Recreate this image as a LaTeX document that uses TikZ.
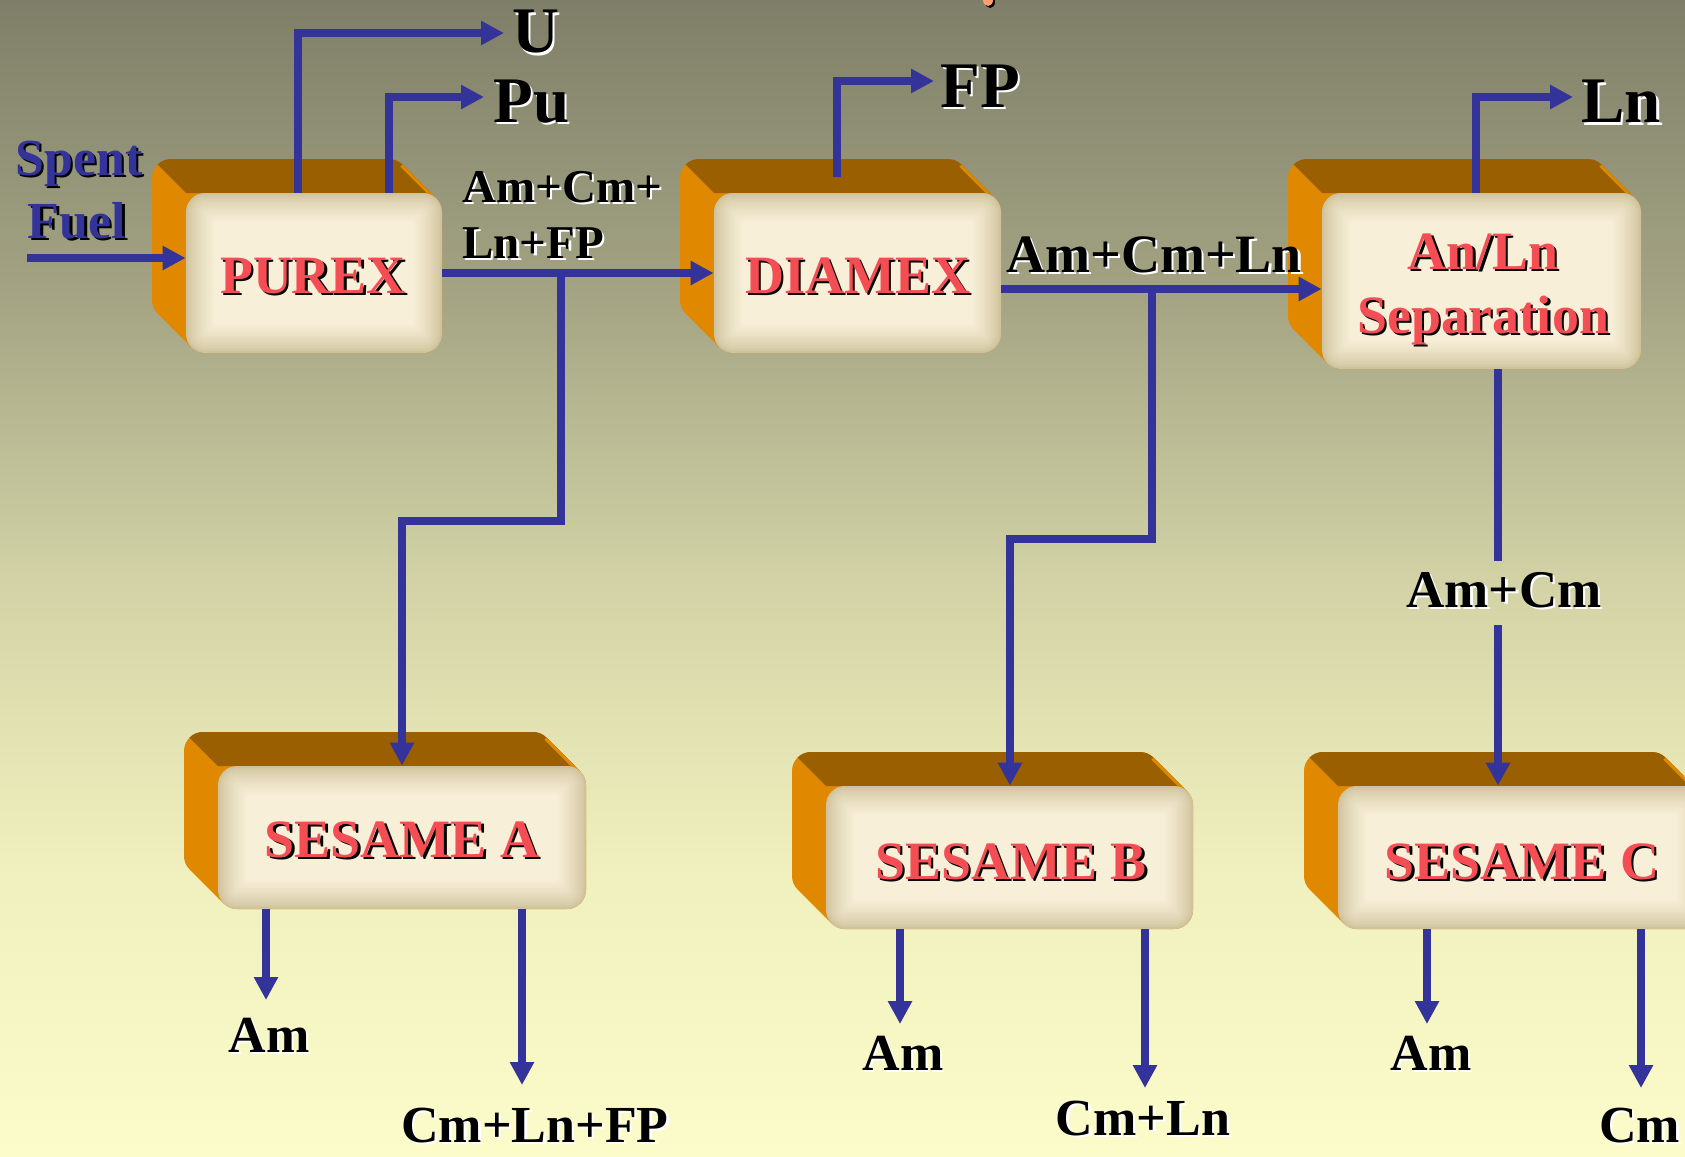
\documentclass[tikz,border=0pt]{standalone}
\usepackage{fontspec}
\setmainfont{Liberation Serif}
\usetikzlibrary{arrows.meta}
\definecolor{flowblue}{RGB}{51,51,153}
\definecolor{boxorange}{RGB}{224,136,0}
\definecolor{boxbrown}{RGB}{154,95,0}
\definecolor{faceedge}{RGB}{208,194,156}
\definecolor{facelight}{RGB}{247,239,216}
\definecolor{labred}{RGB}{244,78,84}
\definecolor{peach}{RGB}{255,160,110}
\definecolor{bgA}{RGB}{127,127,105}
\definecolor{bgB}{RGB}{163,163,131}
\definecolor{bgC}{RGB}{210,210,166}
\definecolor{bgD}{RGB}{240,240,190}
\definecolor{bgE}{RGB}{252,252,202}
\pgfdeclareverticalshading{bgshade}{100bp}{color(0bp)=(bgE); color(25bp)=(bgE); color(37.5bp)=(bgD); color(50bp)=(bgC); color(62.5bp)=(bgB); color(75bp)=(bgA); color(100bp)=(bgA)}
\newcommand\fsz[1]{\fontsize{#1pt}{#1pt}\selectfont\bfseries}
\newcommand\shtxt[3]{\rlap{\kern1.2pt\raisebox{-1.2pt}{\color{#1}#3}}{\color{#2}#3}}
% name, x1, y1, x2, y2 of the front face (y downwards)
\newcommand\procbox[5]{%
  \pgfmathsetmacro\pbXa{#2}\pgfmathsetmacro\pbYa{#3}%
  \pgfmathsetmacro\pbXb{#4}\pgfmathsetmacro\pbYb{#5}%
  \pgfmathsetmacro\pbBXa{#2-34}\pgfmathsetmacro\pbBYa{#3-34}%
  \pgfmathsetmacro\pbBXb{#4-34}\pgfmathsetmacro\pbBYb{#5-34}%
  \pgfmathsetmacro\pbK{19*(1-0.70711)}%
  \begin{scope}
    \path[clip] (\pbBXa,\pbBYa+19) arc[start angle=180,end angle=270,radius=19]
      -- (\pbBXb-19,\pbBYa) arc[start angle=270,end angle=315,radius=19]
      -- (\pbXb-\pbK,\pbYa+\pbK) arc[start angle=315,end angle=360,radius=19]
      -- (\pbXb,\pbYb-19) arc[start angle=0,end angle=90,radius=19]
      -- (\pbXa+19,\pbYb) arc[start angle=90,end angle=135,radius=19]
      -- (\pbBXa+\pbK,\pbBYb-\pbK) arc[start angle=135,end angle=180,radius=19]
      -- cycle;
    \fill[boxorange] (\pbBXa-5,\pbBYa-5) rectangle (\pbXb+5,\pbYb+5);
    \fill[boxbrown] (\pbBXa-60,\pbBYa-60) -- (\pbXb+60,\pbBYa-60) -- (\pbXb+60,\pbYa) -- (\pbXa,\pbYa) -- cycle;
    \draw[boxorange,line width=3pt] (\pbBXb-\pbK,\pbBYa+\pbK) -- (\pbXb-\pbK,\pbYa+\pbK);
  \end{scope}
  \foreach \i in {0,...,15}{%
    \pgfmathsetmacro\pbIn{\i*1.9}%
    \pgfmathsetmacro\pbPc{100*(\i/15)^0.75}%
    \pgfmathsetmacro\pbRc{max(9.5-\pbIn*0.5,1.5)}%
    \fill[facelight!\pbPc!faceedge,rounded corners=\pbRc pt] (\pbXa+\pbIn,\pbYa+\pbIn) rectangle (\pbXb-\pbIn,\pbYb-\pbIn);
  }%
  \pgfmathsetmacro\pbW{(#4-#2)*0.5}\pgfmathsetmacro\pbH{(#5-#3)*0.5}%
  \node[inner sep=0pt,minimum width=\pbW pt,minimum height=\pbH pt] (#1) at ({(#2+#4)/2},{(#3+#5)/2}) {};
}
\tikzset{
  flow/.style={draw=flowblue,line width=3.75pt,-{Triangle[length=11.5pt,width=11.5pt]}},
  flowline/.style={draw=flowblue,line width=3.75pt},
  lbl/.style={inner sep=0pt,anchor=base},
  lblw/.style={inner sep=0pt,anchor=base west},
}
\begin{document}
\begin{tikzpicture}[x=0.5pt,y=-0.5pt]
\useasboundingbox (0,0) rectangle (1685,1156);
\clip (0,0) rectangle (1685,1156);
\fill[shading=bgshade] (0,0) rectangle (1685,1156);
% cut-off fragment at top
\fill[black] (990,2) ellipse [x radius=5, y radius=6];
\fill[peach] (988,0) ellipse [x radius=5, y radius=6];
% boxes
\procbox{purex}{186}{193}{442}{353}
\procbox{diamex}{714}{193}{1001}{353}
\procbox{anln}{1322}{193}{1641}{369}
\procbox{sesA}{218}{766}{586}{909}
\procbox{sesB}{826}{786}{1193}{929}
\procbox{sesC}{1338}{786}{1705}{929}
% coordinates
\coordinate (sf) at (27,258);
\coordinate (uX) at (298,33);  \coordinate (uT) at (504,33);
\coordinate (pX) at (389,97);  \coordinate (pT) at (484,97);
\coordinate (fS) at (837,177); \coordinate (fT) at (934,81);
\coordinate (lX) at (1476,97); \coordinate (lT) at (1573,97);
\coordinate (j1) at (561,273); \coordinate (k1) at (402,521);
\coordinate (j2) at (1152,289); \coordinate (k2) at (1010,539);
\coordinate (c3a) at (1498,561); \coordinate (c3b) at (1498,625);
\coordinate (aA) at (266,1000); \coordinate (cA) at (522,1085);
\coordinate (aB) at (900,1024); \coordinate (cB) at (1145,1088);
\coordinate (aC) at (1427,1024); \coordinate (cC) at (1641,1088);
% connectors
\draw[flow] (sf) -- (sf -| purex.west);
\draw[flow] (purex.north -| uX) |- (uT);
\draw[flow] (purex.north -| pX) |- (pT);
\draw[flow] (fS) |- (fT);
\draw[flow] (anln.north -| lX) |- (lT);
\draw[flow] (purex.east) -- (diamex.west);
\draw[flow] (j1) |- (k1) -- (k1 |- sesA.north);
\draw[flow] (diamex.east |- j2) -- (anln.west |- j2);
\draw[flow] (j2) |- (k2) -- (k2 |- sesB.north);
\draw[flowline] (anln.south -| c3a) -- (c3a);
\draw[flow] (c3b) -- (c3b |- sesC.north);
\draw[flow] (sesA.south -| aA) -- (aA);
\draw[flow] (sesA.south -| cA) -- (cA);
\draw[flow] (sesB.south -| aB) -- (aB);
\draw[flow] (sesB.south -| cB) -- (cB);
\draw[flow] (sesC.south -| aC) -- (aC);
\draw[flow] (sesC.south -| cC) -- (cC);
% box labels
\node[lbl,font={\fsz{27}}] (tPurex) at (313,293) {\shtxt{black}{labred}{PUREX}};
\node[lbl,font={\fsz{27}}] (tDiamex) at (858,293) {\shtxt{black}{labred}{DIAMEX}};
\node[lbl,font={\fsz{27}}] (tAn) at (1483,269) {\shtxt{black}{labred}{An/Ln}};
\node[lbl,font={\fsz{27}}] (tSep) at (1483,333) {\shtxt{black}{labred}{Separation}};
\node[lbl,font={\fsz{27}}] (tSA) at (402,857) {\shtxt{black}{labred}{SESAME A}};
\node[lbl,font={\fsz{27}}] (tSB) at (1011,879) {\shtxt{black}{labred}{SESAME B}};
\node[lbl,font={\fsz{27}}] (tSC) at (1522,879) {\shtxt{black}{labred}{SESAME C}};
% stream labels
\node[lbl,font={\fsz{26}}] (spent) at (79,175) {\shtxt{black}{flowblue}{Spent}};
\node[lbl,font={\fsz{26}}] (fuel) at (77,238) {\shtxt{black}{flowblue}{Fuel}};
\node[lblw,font={\fsz{32.5}}] (lU) at (512,53) {\shtxt{white}{black}{U}};
\node[lblw,font={\fsz{32.5}}] (lPu) at (493,122) {\shtxt{white}{black}{Pu}};
\node[lblw,font={\fsz{32.5}}] (lFP) at (940,107) {\shtxt{white}{black}{FP}};
\node[lblw,font={\fsz{32.5}}] (lLn) at (1581,123) {\shtxt{white}{black}{Ln}};
\node[lblw,font={\fsz{23.5}}] (lAC1) at (462,202) {\shtxt{white}{black}{Am+Cm+}};
\node[lblw,font={\fsz{23.5}}] (lAC2) at (462,258) {\shtxt{white}{black}{Ln+FP}};
\node[lblw,font={\fsz{27}}] (lACL) at (1006,272) {\shtxt{white}{black}{Am+Cm+Ln}};
\node[lbl,font={\fsz{26.5}}] (lAmCm) at (1504,607) {\shtxt{white}{black}{Am+Cm}};
\node[lbl,font={\fsz{26}}] (lAmA) at (269,1052) {\shtxt{white}{black}{Am}};
\node[lbl,font={\fsz{26}}] (lCLF) at (535,1142) {\shtxt{white}{black}{Cm+Ln+FP}};
\node[lbl,font={\fsz{26}}] (lAmB) at (903,1070) {\shtxt{white}{black}{Am}};
\node[lbl,font={\fsz{26}}] (lCL) at (1143,1135) {\shtxt{white}{black}{Cm+Ln}};
\node[lbl,font={\fsz{26}}] (lAmC) at (1431,1070) {\shtxt{white}{black}{Am}};
\node[lblw,font={\fsz{26}}] (lCm) at (1599,1142) {\shtxt{white}{black}{Cm}};
\end{tikzpicture}
\end{document}
